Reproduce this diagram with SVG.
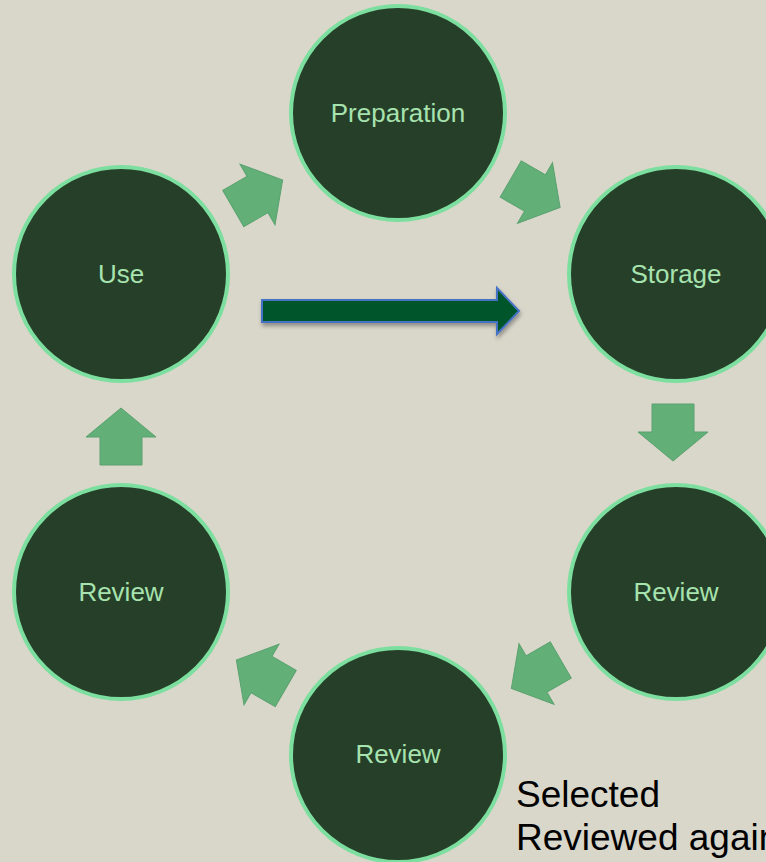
<svg xmlns="http://www.w3.org/2000/svg" xmlns:xlink="http://www.w3.org/1999/xlink" width="766" height="862" viewBox="0 0 766 862">
  <style>
    .node circle { fill: #263f29; stroke: #7ddf9f; stroke-width: 4; }
    .node text { font-family: "Liberation Sans", Arial, sans-serif; font-size: 26px; fill: #a6e3ae; text-anchor: middle; }
    .step { fill: #62b078; stroke: #5aa26f; stroke-width: 1; }
    .note { font-family: "Liberation Sans", Arial, sans-serif; font-size: 37px; fill: #000000; }
  </style>
  <defs>
    <path id="blk" d="M-28,-21 L0,-21 L0,-35 L29,0 L0,35 L0,21 L-28,21 Z"/>
    <filter id="shadow" x="-10%" y="-40%" width="120%" height="190%">
      <feDropShadow dx="1" dy="3" stdDeviation="2" flood-color="#000000" flood-opacity="0.35"/>
    </filter>
  </defs>
  <rect width="766" height="862" fill="#d9d6ca"/>

  <g id="connectors">
    <use href="#blk" class="step" transform="translate(257.5,194.5) rotate(-30)"/>
    <use href="#blk" class="step" transform="translate(535,193) rotate(30)"/>
    <use href="#blk" class="step" transform="translate(673,432) rotate(90)"/>
    <use href="#blk" class="step" transform="translate(536.5,674) rotate(150)"/>
    <use href="#blk" class="step" transform="translate(261.5,674.5) rotate(-150)"/>
    <use href="#blk" class="step" transform="translate(121,437) rotate(-90)"/>
    <path id="main-arrow" d="M262,300 L497,300 L497,288 L519,311 L497,334 L497,322 L262,322 Z" fill="#00572b" stroke="#4472c4" stroke-width="2" filter="url(#shadow)"/>
  </g>

  <g id="node-preparation" class="node">
    <circle cx="398" cy="113" r="107"/>
    <text x="398" y="122">Preparation</text>
  </g>
  <g id="node-storage" class="node">
    <circle cx="676" cy="274" r="107"/>
    <text x="676" y="283">Storage</text>
  </g>
  <g id="node-review-right" class="node">
    <circle cx="676" cy="592" r="107"/>
    <text x="676" y="601">Review</text>
  </g>
  <g id="node-review-bottom" class="node">
    <circle cx="398" cy="755" r="107"/>
    <text x="398" y="763">Review</text>
  </g>
  <g id="node-review-left" class="node">
    <circle cx="121" cy="592" r="107"/>
    <text x="121" y="601">Review</text>
  </g>
  <g id="node-use" class="node">
    <circle cx="121" cy="274" r="107"/>
    <text x="121" y="283">Use</text>
  </g>

  <g id="note">
    <text class="note" x="516" y="807">Selected</text>
    <text class="note" x="516" y="850">Reviewed again</text>
  </g>
</svg>
